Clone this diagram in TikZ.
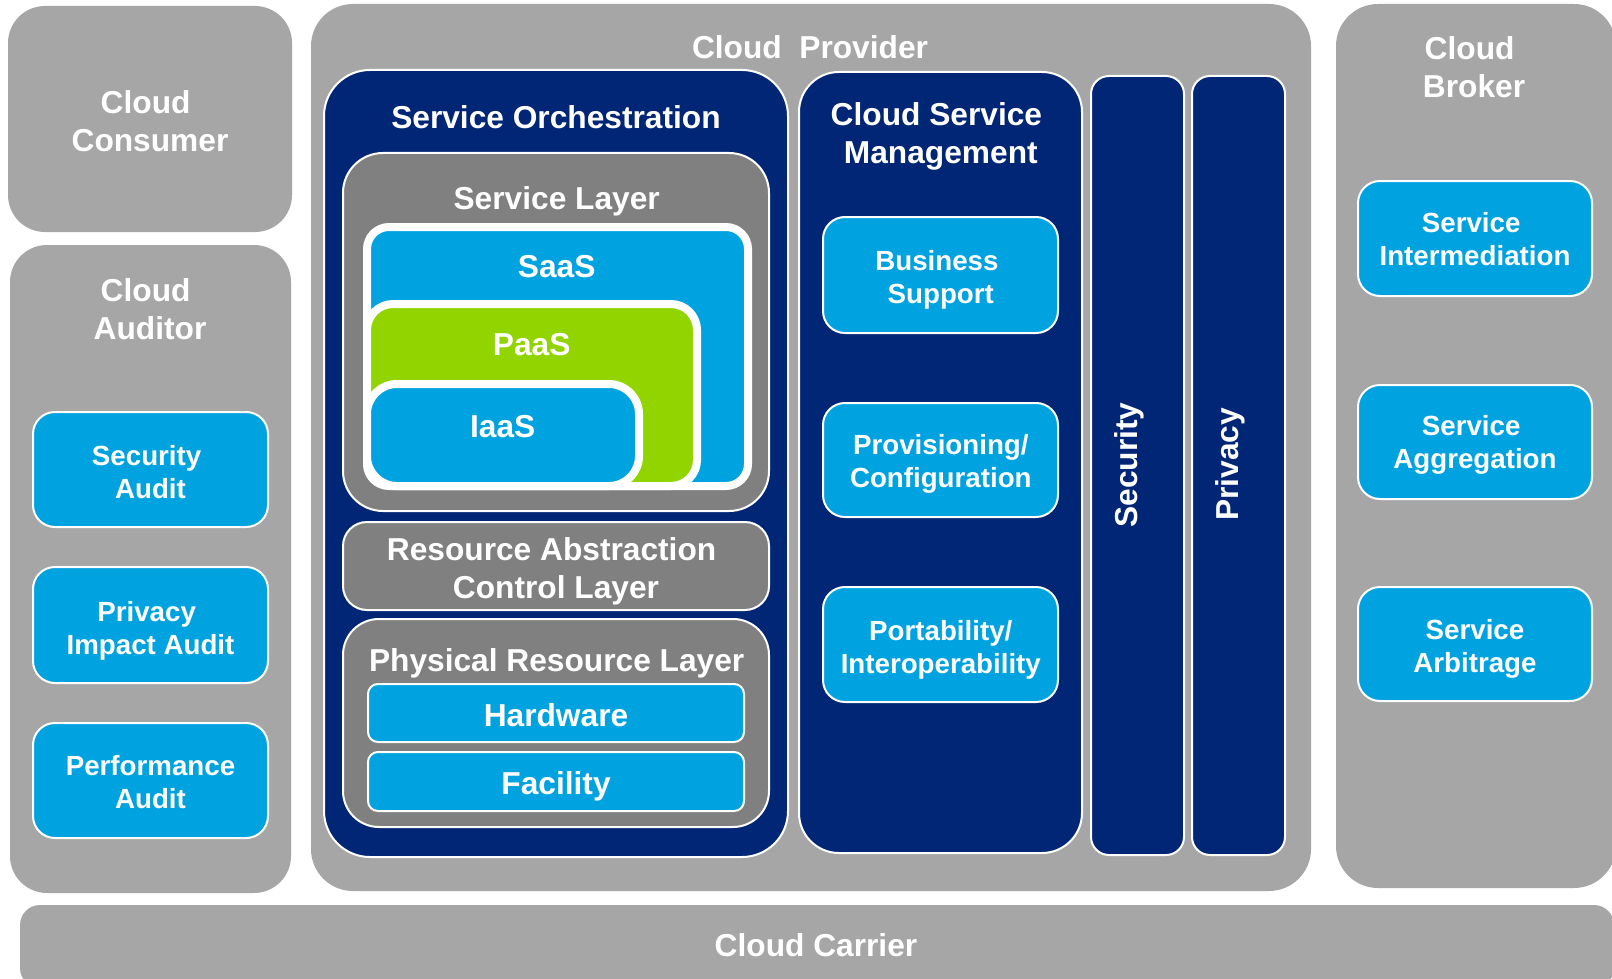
\documentclass[tikz,border=0pt]{standalone}
\usepackage{fontspec}
\setmainfont{Liberation Sans}
\usetikzlibrary{fit}

\definecolor{cgray}{HTML}{A6A6A6}
\definecolor{cmid}{HTML}{808080}
\definecolor{cnavy}{HTML}{002675}
\definecolor{cblue}{HTML}{00A2DF}
\definecolor{cgreen}{HTML}{92D400}

% trailing blank kept at the end of some first lines
\newcommand{\tsp}{\hspace*{0.278em}}

\tikzset{
  actor/.style={fill=cgray, draw=none, inner sep=0pt, rounded corners=#1},
  actor/.default=18.5pt,
  navybox/.style={fill=cnavy, draw=white, line width=1pt, inner sep=0pt, rounded corners=#1},
  layerbox/.style={fill=cmid, draw=white, line width=1pt, inner sep=0pt, rounded corners=#1},
  bluebox/.style={fill=cblue, draw=white, line width=1pt, inner sep=0pt, rounded corners=#1},
  bluebox/.default=11pt,
  svcbox/.style={draw=white, line width=4pt, inner sep=0pt, rounded corners=#1},
  big/.style={text=white, font=\bfseries\fontsize{15.85}{19}\selectfont, align=center, inner sep=0pt},
  small/.style={text=white, font=\bfseries\fontsize{13.85}{16.5}\selectfont, align=center, inner sep=0pt},
}

\begin{document}
\begin{tikzpicture}[x=0.5pt, y=-0.5pt]
  \useasboundingbox (0,0) rectangle (1612,979);
  \clip (0,0) rectangle (1612,979);
  \fill[white] (0,0) rectangle (1612,979);

  % ---- actors ----
  \node[actor, fit={(8,6)(292,232)}] (consumer) {};
  \node[actor, fit={(10,245)(291,893)}] (auditor) {};
  \node[actor=21pt, fit={(311,4)(1311,891)}] (provider) {};
  \node[actor=21pt, fit={(1336,4)(1616,888)}] (broker) {};
  \node[actor=10pt, fit={(20,905)(1614,988)}] (carrier) {};

  \node[big] (consumerT) at (150,121) {Cloud\tsp\\Consumer};
  \node[big] (auditorT) at (150,308.8) {Cloud\tsp\\Auditor};
  \node[big] (providerT) at (810,47) {Cloud\ \ Provider};
  \node[big] (brokerT) at (1474,67) {Cloud\tsp\\Broker};
  \node[big] (carrierT) at (816,945) {Cloud Carrier};

  % ---- auditor functions ----
  \node[bluebox, fit={(33,412)(268,527)}] (secaudit) {};
  \node[bluebox, fit={(33,567)(268,683)}] (privaudit) {};
  \node[bluebox, fit={(33,723)(268,838)}] (perfaudit) {};
  \node[small] (secauditT) at (150.5,471.7) {Security\tsp\\Audit};
  \node[small] (privauditT) at (150.5,630.4) {Privacy\tsp\\Impact Audit};
  \node[small] (perfauditT) at (150.5,782.5) {Performance\\Audit};

  % ---- broker functions ----
  \node[bluebox, fit={(1358,181)(1592,296)}] (servint) {};
  \node[bluebox, fit={(1358,385)(1592,499)}] (servagg) {};
  \node[bluebox, fit={(1358,587)(1592,701)}] (servarb) {};
  \node[small] (servintT) at (1475,239.5) {Service\tsp\\Intermediation};
  \node[small] (servaggT) at (1475,445) {Service\tsp\\Aggregation};
  \node[small] (servarbT) at (1475,648.4) {Service\\Arbitrage};

  % ---- service orchestration ----
  \node[navybox=23pt, fit={(324,70)(788,857)}] (orch) {};
  \node[big] (orchT) at (556,116.7) {Service Orchestration};

  \node[layerbox=20pt, fit={(343,153)(769,511)}] (slayer) {};
  \node[big] (slayerT) at (556.7,201) {Service Layer};

  \node[svcbox=11pt, fill=cblue, fit={(367,227)(748,486)}] (saas) {};
  \node[svcbox=13pt, fill=cgreen, fit={(367,304)(697,486)}] (paas) {};
  \node[svcbox=15pt, fill=cblue, fit={(367,384)(639,486)}] (iaas) {};
  \node[big] (saasT) at (556.7,266.7) {SaaS};
  \node[big] (paasT) at (531.7,345) {PaaS};
  \node[big] (iaasT) at (502.7,426.7) {IaaS};

  \node[layerbox=12pt, fit={(343,522)(769,610)}] (racl) {};
  \node[big] (raclT) at (556,571) {Resource Abstraction\tsp\\Control Layer};

  \node[layerbox=18pt, fit={(343,619)(769,827)}] (prl) {};
  \node[big] (prlT) at (556.7,663) {Physical Resource Layer};
  \node[bluebox=5pt, fit={(368,684)(744,742)}] (hw) {};
  \node[bluebox=5pt, fit={(368,752)(744,811)}] (fac) {};
  \node[big] (hwT) at (556,715) {Hardware};
  \node[big] (facT) at (556,786) {Facility};

  % ---- cloud service management ----
  \node[navybox=20pt, fit={(799,72)(1082,853)}] (csm) {};
  \node[big] (csmT) at (940.8,136.5) {Cloud Service\tsp\\Management};
  \node[bluebox, fit={(823,217)(1058,333)}] (bus) {};
  \node[bluebox, fit={(823,403)(1058,517)}] (prov) {};
  \node[bluebox, fit={(823,587)(1058,702)}] (port) {};
  \node[small] (busT) at (940.8,279.4) {Business\tsp\\Support};
  \node[small] (provT) at (940.8,464.1) {Provisioning/\\Configuration};
  \node[small] (portT) at (940.8,649.6) {Portability/\\Interoperability};

  % ---- security and privacy ----
  \node[navybox=9pt, fit={(1091,76)(1184,855)}] (sec) {};
  \node[navybox=9pt, fit={(1192,76)(1285,855)}] (priv) {};
  \node[big, rotate=90] (secT) at (1129.2,465) {Security};
  \node[big, rotate=90] (privT) at (1230,464.2) {Privacy};
\end{tikzpicture}
\end{document}
